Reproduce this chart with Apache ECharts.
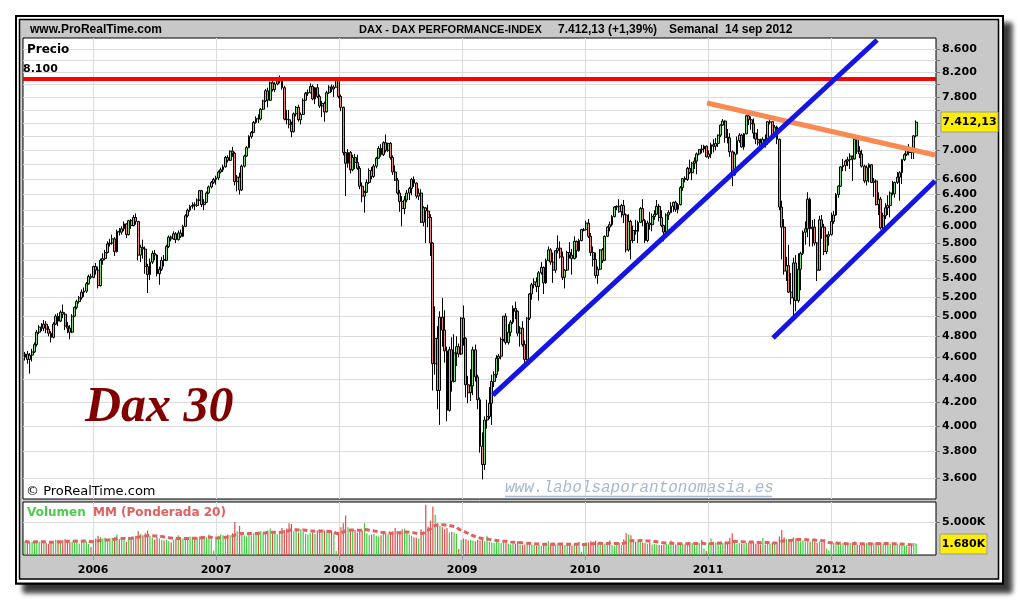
<!DOCTYPE html>
<html><head><meta charset="utf-8">
<script src="https://cdn.jsdelivr.net/npm/echarts@6/dist/echarts.min.js"></script>
<style>html,body{margin:0;padding:0;background:#fff}#c{width:1020px;height:600px}</style>
</head><body><div id="c"></div>
<script>
// ---------- DATA (weekly DAX) ----------
const firstWeek = '2005-06-13';
const opens = [
// 2005
4600,4630,4580,4620,4650,4720,4840,4890,4880,4920,4870,4830,4790,4920,5000,4950,5040,5020,4900,4880,4840,5000,5090,5150,5190,5250,5260,5340,5420,
// 2006
5410,5530,5490,5320, 5600,5620,5690,5790, 5800,5850,5700,5940,5930, 5970,6030,5900,6070, 6010,6110,6060,5660, 5750,5730,5530,5440,5580, 5680,5660,5450,5500, 5610,5600,5760,5870, 5850,5910,5840,5920,5880, 6000,6130,6200,6250, 6270,6260,6330,6450, 6270,6300,6420,6500,6560,
// 2007
6600,6620,6700,6730, 6770,6900,6860,6990, 6960,6570,6630,6460,6780, 6920,7040,7200,7260, 7410,7470,7460,7610, 7740,7900,7750,8030,7920, 8010,8060,8090,7950, 7460,7450,7380,7270,7540, 7640,7450,7530,7750, 7860,7870,7970,7770, 7950,7810,7660,7700,7570, 7870,7960,7930,7960,
// 2008
8070,7810,7640,6970, 6820,6970,6730,6900,6830, 6750,6510,6380,6430, 6560,6720,6640,6780, 6890,7030,6940,7110,7000, 7100,6900,6700,6590, 6420,6310,6220,6330, 6420,6480,6600,6550,6380, 6420,6050,6230,6190, 6110,5800,4540,4780,4300, 4990,4860,4660,4130, 4670,4380,4640,4700,
// 2009
4630,4980,4780,4350,4280, 4340,4670,4420,4220, 3840,3700,4050,4080, 4190,4380,4440,4590, 4610,4770,5000,4740,4840, 4940,5080,5050,4830, 4880,4720,4580,4980,5230, 5330,5360,5310,5460, 5520,5350,5600,5720, 5580,5490,5710,5740,5640, 5410,5490,5690,5660, 5620,5820,5710,5830,
// 2010
5950,5960,6040,5880,5690, 5610,5430,5500,5720, 5600,5880,5990,6020, 6120,6240,6250,6180,6260, 6140,5720,6060,5830, 5950,5940,6050,6220, 6070,5830,6040,6020,6120, 6150,6250,6110,6010, 5930,6140,6170,6250, 6300,6210,6270,6490,6610, 6600,6750,6690,6820, 6850,6950,7010,7020,7060,
// 2011
6910,6950,7080,7060, 7100,7220,7370,7430, 7190,7180,6980,6660, 6950,7140,7220,7050,7240, 7510,7450,7390,7250, 7160,7110,7070,7160, 7120,7410,7420,7220,7340, 7160,6240,5990,5480, 5540,5250,5190,5570,5160, 5500,5680,5930,5970, 6340,5970,5990,5800, 5490,6080,5990,5700,5880,
// 2012
5900,6060,6140,6400, 6510,6770,6790,6850, 6870,6920,6880,7160,6990, 6950,6780,6580,6760, 6800,6560,6580,6270, 6340,5980,6130,6230,6260, 6420,6410,6560,6630, 6690,6870,6940,7040,6980, 6970,7210
];
const closes = [
// 2005
4630,4580,4620,4650,4720,4840,4890,4880,4920,4870,4830,4790,4920,5000,4950,5040,5020,4900,4880,4840,5000,5090,5150,5190,5250,5260,5340,5420,5410,
// 2006
5530,5490,5320,5600, 5620,5690,5790,5800, 5850,5700,5940,5930,5970, 6030,5900,6070,6010, 6110,6060,5660,5750, 5730,5530,5440,5580,5680, 5660,5450,5500,5600, 5600,5760,5870,5850, 5910,5840,5920,5880,6000, 6130,6200,6250,6260, 6260,6330,6450,6270, 6300,6420,6500,6560,6600,
// 2007
6620,6700,6730,6770, 6900,6860,6990,6960, 6570,6630,6460,6780,6920, 7040,7200,7260,7410, 7470,7460,7610,7740, 7900,7750,8030,7920,8010, 8060,8090,7950,7460, 7450,7380,7270,7540,7640, 7450,7530,7750,7860, 7870,7970,7770,7950, 7810,7660,7700,7570,7870, 7960,7930,7960,8070,
// 2008
7810,7640,6970,6820, 6970,6730,6900,6830,6750, 6510,6380,6430,6560, 6720,6640,6780,6890, 7030,6940,7110,7000,7100, 6900,6700,6590,6420, 6310,6220,6330,6420, 6480,6600,6550,6380,6420, 6050,6230,6190,6110, 5800,4540,4780,4300,4990, 4860,4660,4130,4670, 4380,4640,4700,4630,
// 2009
4980,4780,4350,4280,4340, 4670,4420,4220,3840, 3700,4050,4080,4190, 4380,4440,4590,4610, 4770,5000,4740,4840,4940, 5080,5050,4830,4880, 4720,4580,4980,5230,5330, 5360,5310,5460,5520, 5350,5600,5720,5580, 5490,5710,5740,5640,5410, 5490,5690,5660,5620, 5820,5710,5830,5960,
// 2010
5960,6040,5880,5690,5610, 5430,5500,5720,5600, 5880,5990,6020,6120, 6240,6250,6180,6260,6140, 5720,6060,5830,5950, 5940,6050,6220,6070, 5830,6040,6020,6120,6150, 6250,6110,6010,5930, 6140,6170,6250,6300, 6210,6270,6490,6610,6600, 6750,6690,6820,6850, 6950,7010,7020,7060,6910,
// 2011
6950,7080,7060,7100, 7220,7370,7430,7190, 7180,6980,6660,6950, 7140,7220,7050,7240,7510, 7450,7390,7250,7160, 7110,7070,7160,7120, 7420,7420,7220,7340,7160, 6240,5990,5480,5540, 5250,5190,5570,5160,5500, 5680,5930,5970,6340, 5970,5990,5800,5490, 6080,5990,5700,5880,5900,
// 2012
6060,6140,6400,6510, 6770,6790,6850,6870, 6920,6880,7160,6990,6950, 6780,6580,6760,6800, 6560,6580,6270,6340, 5980,6130,6230,6260,6420, 6410,6560,6630,6690, 6870,6940,7040,6970,6970, 7210,7412.13
];
const lows = [
// 2005
4570,4540,4450,4560,4640,4700,4820,4850,4850,4830,4800,4740,4780,4910,4900,4940,4980,4860,4830,4770,4830,4990,5070,5130,5170,5200,5240,5330,5390,
// 2006
5400,5440,5290,5310, 5550,5600,5680,5760, 5780,5650,5690,5890,5900, 5940,5860,5890,5970, 6000,6020,5600,5580, 5620,5450,5240,5380,5560, 5600,5420,5330,5480, 5530,5590,5740,5820, 5840,5800,5830,5860,5870, 5990,6110,6180,6220, 6200,6240,6320,6240, 6200,6290,6410,6480,6540,
// 2007
6530,6590,6680,6700, 6760,6830,6850,6910, 6520,6440,6400,6450,6760, 6910,7030,7170,7250, 7390,7400,7440,7600, 7720,7640,7740,7890,7880, 7990,8020,7920,7440, 7380,7320,7190,7260,7500, 7420,7380,7520,7740, 7820,7860,7750,7690, 7780,7630,7490,7420,7560, 7850,7880,7800,7950,
// 2008
7780,7580,6930,6380, 6760,6680,6710,6740,6730, 6470,6300,6170,6420, 6540,6600,6620,6750, 6880,6910,6920,6970,6980, 6870,6660,6580,6400, 6180,6000,6150,6300, 6330,6390,6500,6350,6330, 6040,6000,5800,5990, 5650,4300,4440,4140,4010, 4700,4550,4040,4120, 4290,4370,4520,4600,
// 2009
4620,4710,4240,4190,4210, 4260,4380,4140,3790, 3590,3660,3980,4060, 4010,4330,4410,4470, 4580,4750,4720,4720,4800, 4920,4970,4800,4700, 4700,4540,4570,4960,5170, 5290,5250,5160,5440, 5230,5340,5590,5550, 5350,5460,5680,5620,5380, 5290,5480,5620,5440, 5610,5630,5700,5820,
// 2010
5940,5950,5860,5650,5530, 5400,5340,5490,5570, 5590,5870,5940,6000, 6110,6200,6170,6110,6040, 5690,5700,5610,5800, 5900,5800,6040,6000, 5800,5810,5960,5940,6080, 6140,6060,5990,5820, 5910,6080,6160,6180, 6180,6160,6260,6450,6560, 6580,6670,6590,6740, 6670,6930,6960,6970,6900,
// 2011
6880,6890,6970,7000, 7050,7190,7360,7110, 7100,6910,6510,6650, 6940,7110,7040,7010,7230, 7370,7300,7170,7090, 7070,7000,7020,7040, 7080,7380,7160,7180,7090, 6200,5610,5440,5370, 5240,5120,4970,5050,5140, 5270,5660,5780,5870, 5760,5760,5770,5370, 5480,5850,5660,5670,5770,
// 2012
5890,6030,6130,6360, 6500,6710,6710,6780, 6740,6580,6870,6950,6890, 6760,6550,6520,6560, 6550,6370,6260,6140, 5960,5910,6090,6140,6110, 6390,6360,6540,6320, 6540,6850,6920,6930,6880, 6880,7190
];
const highs = [
// 2005
4650,4660,4640,4680,4740,4860,4910,4930,4960,4950,4900,4850,4940,5020,5030,5060,5120,5040,4940,4910,5020,5100,5170,5210,5280,5300,5360,5440,5450,
// 2006
5540,5570,5530,5620, 5680,5720,5820,5850, 5900,5870,5960,5980,6000, 6060,6040,6080,6090, 6140,6160,6060,5780, 5840,5760,5560,5620,5710, 5720,5670,5530,5640, 5660,5780,5890,5890, 5940,5930,5950,5960,6020, 6150,6220,6270,6300, 6300,6350,6460,6460, 6340,6440,6520,6580,6620,
// 2007
6650,6720,6760,6800, 6920,6930,7000,7050, 6980,6660,6690,6800,6940, 7060,7220,7280,7430, 7500,7530,7630,7760, 7930,7950,8050,8060,8040, 8100,8150,8120,7980, 7600,7600,7420,7560,7660, 7680,7560,7780,7880, 7920,8020,8000,7960, 8010,7840,7740,7730,7900, 7990,8000,7990,8100,
// 2008
8080,7840,7650,6980, 7020,6990,6940,6950,6940, 6780,6560,6450,6600, 6750,6770,6810,6910, 7060,7090,7130,7230,7110, 7120,6930,6790,6620, 6460,6380,6380,6460, 6500,6620,6640,6560,6480, 6470,6250,6240,6270, 6150,5810,5100,4900,5050, 5190,5060,4700,4700, 4790,4820,4800,4730,
// 2009
4990,5110,4790,4430,4490, 4700,4720,4440,4240, 3950,4080,4220,4330, 4440,4470,4620,4630, 4790,5000,5030,4920,4960, 5110,5150,5060,4900, 4950,4760,4990,5240,5350, 5400,5410,5480,5580, 5530,5620,5760,5740, 5690,5720,5890,5820,5700, 5500,5710,5810,5730, 5880,5830,5850,5970,
// 2010
5980,6070,6090,5920,5760, 5690,5530,5730,5740, 5890,6000,6060,6140, 6250,6260,6340,6280,6330, 6160,6150,6080,6010, 6080,6070,6240,6340, 6090,6070,6180,6160,6200, 6330,6280,6200,6020, 6160,6200,6300,6310, 6320,6290,6510,6620,6640, 6770,6870,6840,6900, 6970,7020,7080,7080,7070,
// 2011
7000,7110,7160,7180, 7230,7380,7460,7440, 7310,7250,7000,6980, 7200,7250,7240,7250,7530, 7600,7500,7470,7250, 7310,7170,7190,7230, 7430,7520,7420,7370,7360, 7170,6320,6090,5640, 5780,5460,5630,5660,5680, 5700,5950,6060,6430, 6360,6080,6090,5810, 6130,6140,6030,5900,5940,
// 2012
6170,6190,6420,6520, 6780,6880,6870,6910, 6960,6900,7190,7190,7060, 7010,6800,6790,6820, 6810,6620,6600,6430, 6370,6170,6290,6390,6440, 6580,6570,6700,6710, 6880,6960,7050,7090,7040, 7220,7440
];
// weekly volume, thousands
const volumes = [
// 2005
2100,1900,1850,2000,1950,2200,2050,1900,2050,1800,1700,1900,2100,2300,2150,2000,2250,2400,2150,1950,2050,2300,2200,1750,2150,2300,2100,1700,1200,
// 2006
2300,2500,2900,2700, 2500,2600,2400,2500, 2600,2700,3100,2400,2500, 2600,2000,2700,2600, 2800,2900,3600,3200, 3000,3300,3700,2900,2600, 2300,2700,2500,2300, 2200,2300,2100,1900, 2300,2500,3000,2400,2500, 2700,2600,2800,2700, 2600,2700,2800,2900, 2800,2700,3100,2400,700,
// 2007
2800,2900,3100,3000, 2900,3100,3000,3300, 5000,3600,4400,3200,3000, 2800,3200,3000,3300, 3200,3400,3600,3300, 3500,3700,4000,3300,3400, 3200,3600,4100,3800, 4000,4800,4700,3600,3700, 3400,3900,3500,3200, 3100,3300,3400,3200, 3700,3900,3800,3700,3500, 3400,3700,3200,600,
// 2008
3500,4200,4800,6000, 4200,3700,3600,3800,3400, 3600,3700,4800,3300, 3000,3100,3200,2900, 2800,3000,3200,3300,3100, 3300,3600,4100,3500, 3600,3900,4000,3500, 3100,2900,2700,2600,2500, 3900,3500,7600,4300, 5200,7300,6100,4800,4400, 4200,3900,4100,3400, 3500,3400,3200,900,
// 2009
2300,2500,2400,2200,2300, 2200,2100,2300,2200, 2400,2100,2900,2000, 1900,1800,2000,1900, 1800,2000,1900,1700,1600, 1800,1700,2100,1600, 1500,1600,1800,1700,1600, 1500,1400,1500,1400, 1600,1700,2100,1600, 1700,1600,1800,1700,1600, 1500,1600,1700,1400, 1700,1600,2000,500,
// 2010
1800,1900,1900,2100,2000, 2200,1800,1700,1600, 1700,1600,2200,1500, 1400,1600,1800,1500,2400, 3300,3100,3000,2300, 2000,2100,2400,1900, 1800,1700,1900,1600,1700, 1600,1500,1500,1600, 1700,1600,2200,1700, 1600,1700,1800,1700,1600, 1800,1900,1800,1700, 1900,1800,2300,1000,600,
// 2011
1800,2500,2000,1900, 2000,1900,1800,2000, 1900,2600,3300,2100, 1700,1800,1700,1700,1800, 1900,1800,1900,1700, 1700,1600,2600,1600, 1800,1700,1900,1700,1600, 2800,3800,2700,2400, 2300,2400,2700,2500,2200, 2100,2200,2000,2100, 2000,2200,2100,1800, 2000,1900,2300,1000,700,
// 2012
1700,1800,1900,1700, 1700,1800,1600,1700, 1800,1700,2100,1600,1500, 1600,1700,1800,1600, 1700,1800,1900,1500, 1900,1700,2000,1600,1700, 1600,1500,1700,1500, 1500,1400,1500,1300,1400, 1800,1680
];
const yearTicks = ['2006','2007','2008','2009','2010','2011','2012'];
const priceGridValues = [3600,3800,4000,4200,4400,4600,4800,5000,5200,5400,5600,5800,6000,6200,6400,6600,6800,7000,7200,7400,7600,7800,8000,8200,8400,8600];
const priceLabelValues = [3600,3800,4000,4200,4400,4600,4800,5000,5200,5400,5600,5800,6000,6200,6400,6600,7000,7800,8200,8600];
const volumeLabelValues = [5000];
const resistanceLevel = 8100;
const blueLowerChannel = [['2009-04-02',4260],['2012-05-17',8758]];
const blueUpperChannel = [['2011-07-13',4783],['2012-11-05',6579]];
const orangeLine = [['2010-12-29',7708],['2012-11-05',6935]];
const maPeriod = 20;

// ---------- BUILD ----------
const DAY = 86400000;
const ts = s => Date.parse(s + 'T00:00:00Z');
const t0 = ts(firstWeek);
const n = Math.min(opens.length, closes.length, lows.length, highs.length, volumes.length);
const weekTimes = [];
for (let i = 0; i < n; i++) weekTimes.push(t0 + i * 7 * DAY);
const UP = '#74e874', DOWN = '#f08484', VUP = '#3ccc3c', VDOWN = '#dc4e4e', GRID = '#dcdcdc';
const candleData = weekTimes.map((t, i) => [t, opens[i], closes[i], lows[i], highs[i]]);
const volData = weekTimes.map((t, i) => ({ value: [t, volumes[i]], itemStyle: { color: closes[i] >= opens[i] ? VUP : VDOWN } }));
const wma = volumes.slice(0, n).map((_, i) => {
  let num = 0, den = 0;
  for (let k = 0; k < maPeriod && i - k >= 0; k++) { const w = maPeriod - k; num += volumes[i - k] * w; den += w; }
  return [weekTimes[i], num / den];
});
const yearTimes = yearTicks.map(y => ts(y + '-01-01'));
const lineData = arr => arr.map(p => [ts(p[0]), p[1]]);
const fmtDots = v => String(Math.round(v)).replace(/\B(?=(\d{3})+(?!\d))/g, '.');
const fmtPrice = v => { const s = v.toFixed(2).split('.'); return fmtDots(+s[0]) + ',' + s[1]; };
const xMin = ts('2005-06-07'), xMax = ts('2012-11-08');
const AX = { color: '#000', fontWeight: 'bold', fontSize: 11, fontFamily: 'DejaVu Sans' };

const chart = echarts.init(document.getElementById('c'), null, { renderer: 'canvas' });
chart.setOption({
  animation: false,
  backgroundColor: '#ffffff',
  grid: [
    { left: 23, top: 38, width: 913, height: 461, show: true, backgroundColor: '#fff', borderColor: '#000', borderWidth: 1 },
    { left: 23, top: 502, width: 913, height: 53, show: true, backgroundColor: '#fff', borderColor: '#000', borderWidth: 1 }
  ],
  xAxis: [
    { type: 'value', gridIndex: 0, min: xMin, max: xMax, axisLine: { show: false },
      axisTick: { show: false, customValues: yearTimes }, axisLabel: { show: false, customValues: yearTimes },
      splitLine: { show: true, lineStyle: { color: GRID, width: 1 } } },
    { type: 'value', gridIndex: 1, min: xMin, max: xMax, axisLine: { show: false },
      axisTick: { show: true, customValues: yearTimes, length: 5, lineStyle: { color: '#8c9caf' } },
      axisLabel: Object.assign({ customValues: yearTimes, margin: 10, formatter: v => String(new Date(v).getUTCFullYear()) }, AX),
      splitLine: { show: true, lineStyle: { color: GRID, width: 1 } } }
  ],
  yAxis: [
    { type: 'log', logBase: 10, gridIndex: 0, position: 'right', min: 3450, max: 8794, axisLine: { show: false },
      axisTick: { show: true, customValues: priceGridValues, length: 4, lineStyle: { color: '#777' } },
      axisLabel: Object.assign({ customValues: priceLabelValues, margin: 6, formatter: v => fmtDots(v) }, AX),
      splitLine: { show: true, lineStyle: { color: GRID, width: 1 } } },
    { type: 'value', gridIndex: 1, position: 'right', min: 0, max: 8030, axisLine: { show: false },
      axisTick: { show: true, customValues: volumeLabelValues, length: 4, lineStyle: { color: '#777' } },
      axisLabel: Object.assign({ customValues: volumeLabelValues, margin: 6, formatter: v => fmtDots(v) + 'K' }, AX),
      splitLine: { show: true, lineStyle: { color: GRID, width: 1 } } }
  ],
  series: [
    { type: 'candlestick', xAxisIndex: 0, yAxisIndex: 0, data: candleData, encode: { x: 0, y: [1, 2, 3, 4] },
      barWidth: 2.4, silent: true, z: 3,
      itemStyle: { color: UP, color0: DOWN, borderColor: '#000', borderColor0: '#000', borderWidth: 1 },
      markLine: { silent: true, symbol: ['none', 'none'], animation: false,
        data: [{ yAxis: resistanceLevel }],
        lineStyle: { color: '#ff0000', width: 4, type: 'solid' },
        label: Object.assign({ show: true, position: 'insideStartTop', distance: [0, 4], formatter: fmtDots(resistanceLevel) }, AX),
        emphasis: { disabled: true } } },
    { type: 'line', xAxisIndex: 0, yAxisIndex: 0, data: lineData(blueLowerChannel), symbol: 'none', silent: true, z: 6,
      lineStyle: { color: '#1414e6', width: 5 } },
    { type: 'line', xAxisIndex: 0, yAxisIndex: 0, data: lineData(blueUpperChannel), symbol: 'none', silent: true, z: 6,
      lineStyle: { color: '#1414e6', width: 5 } },
    { type: 'line', xAxisIndex: 0, yAxisIndex: 0, data: lineData(orangeLine), symbol: 'none', silent: true, z: 5,
      lineStyle: { color: '#fb8a52', width: 5 } },
    { type: 'bar', xAxisIndex: 1, yAxisIndex: 1, data: volData, barWidth: 1.2, silent: true },
    { type: 'line', xAxisIndex: 1, yAxisIndex: 1, data: wma, symbol: 'none', silent: true, z: 4,
      lineStyle: { color: '#e06060', width: 3, type: [5, 3] } }
  ]
});

const lastPrice = closes[n - 1], lastVol = volumes[n - 1];
const pyPrice = chart.convertToPixel({ yAxisIndex: 0 }, lastPrice);
const pyVol = chart.convertToPixel({ yAxisIndex: 1 }, lastVol);
const txt = (text, x, y, font, fill, align, extra) => Object.assign({ type: 'text', z: 100, silent: true,
  style: { text, x, y, font, fill, align: align || 'left', verticalAlign: 'middle' } }, extra || {});
const HF = 'bold 12px "Liberation Sans", Arial, sans-serif';
const HF11 = 'bold 11px "Liberation Sans", Arial, sans-serif';
chart.setOption({
  graphic: [
    { type: 'rect', z: -30, silent: true, shape: { x: 16, y: 16, width: 987, height: 567.5 },
      style: { fill: '#fff', stroke: '#000', lineWidth: 2, shadowBlur: 5, shadowColor: 'rgba(0,0,0,0.78)', shadowOffsetX: 8, shadowOffsetY: 8 } },
    { type: 'rect', z: -25, silent: true, shape: { x: 16, y: 16, width: 987, height: 567.5 },
      style: { fill: '#fff', stroke: '#000', lineWidth: 2 } },
    { type: 'rect', z: -20, silent: true, shape: { x: 19.5, y: 19.5, width: 979, height: 559.5 },
      style: { fill: '#c8c8c8', stroke: '#000', lineWidth: 1.5 } },
    txt('www.ProRealTime.com', 30, 30, HF, '#000'),
    txt('DAX - DAX PERFORMANCE-INDEX', 359, 30, HF11, '#000'),
    txt('7.412,13 (+1,39%)', 558, 30, HF, '#000'),
    txt('Semanal  14 sep 2012', 669, 30, HF, '#000'),
    txt('Precio', 27, 50, 'bold 12px "DejaVu Sans"', '#000'),
    txt('Dax 30', 85, 408, 'italic bold 50px "Liberation Serif", "Times New Roman", serif', '#800000'),
    txt('© ProRealTime.com', 26, 492, '13px "DejaVu Sans"', '#000'),
    txt('www.labolsaporantonomasia.es', 505, 488, 'italic 16px "Liberation Mono", monospace', '#a6b8cb'),
    { type: 'line', z: 100, silent: true, shape: { x1: 505, y1: 496.5, x2: 772, y2: 496.5 }, style: { stroke: '#a6b8cb', lineWidth: 1.5 } },
    txt('Volumen', 27, 513, 'bold 12px "DejaVu Sans"', '#4ccc4c'),
    txt('MM (Ponderada 20)', 93, 513, 'bold 12px "DejaVu Sans"', '#e06060'),
    { type: 'rect', z: 100, silent: true, shape: { x: 941, y: Math.round(pyPrice) - 10, width: 57, height: 20 },
      style: { fill: '#ffee00', stroke: '#9c9c9c', lineWidth: 1 } },
    txt(fmtPrice(lastPrice), 969.5, Math.round(pyPrice), 'bold 11px "DejaVu Sans"', '#000', 'center', { z: 101 }),
    { type: 'rect', z: 100, silent: true, shape: { x: 940, y: Math.round(pyVol) - 10, width: 47, height: 20 },
      style: { fill: '#ffee00', stroke: '#9c9c9c', lineWidth: 1 } },
    txt(fmtDots(lastVol) + 'K', 963.5, Math.round(pyVol), 'bold 11px "DejaVu Sans"', '#000', 'center', { z: 101 })
  ]
});
</script>
</body></html>
